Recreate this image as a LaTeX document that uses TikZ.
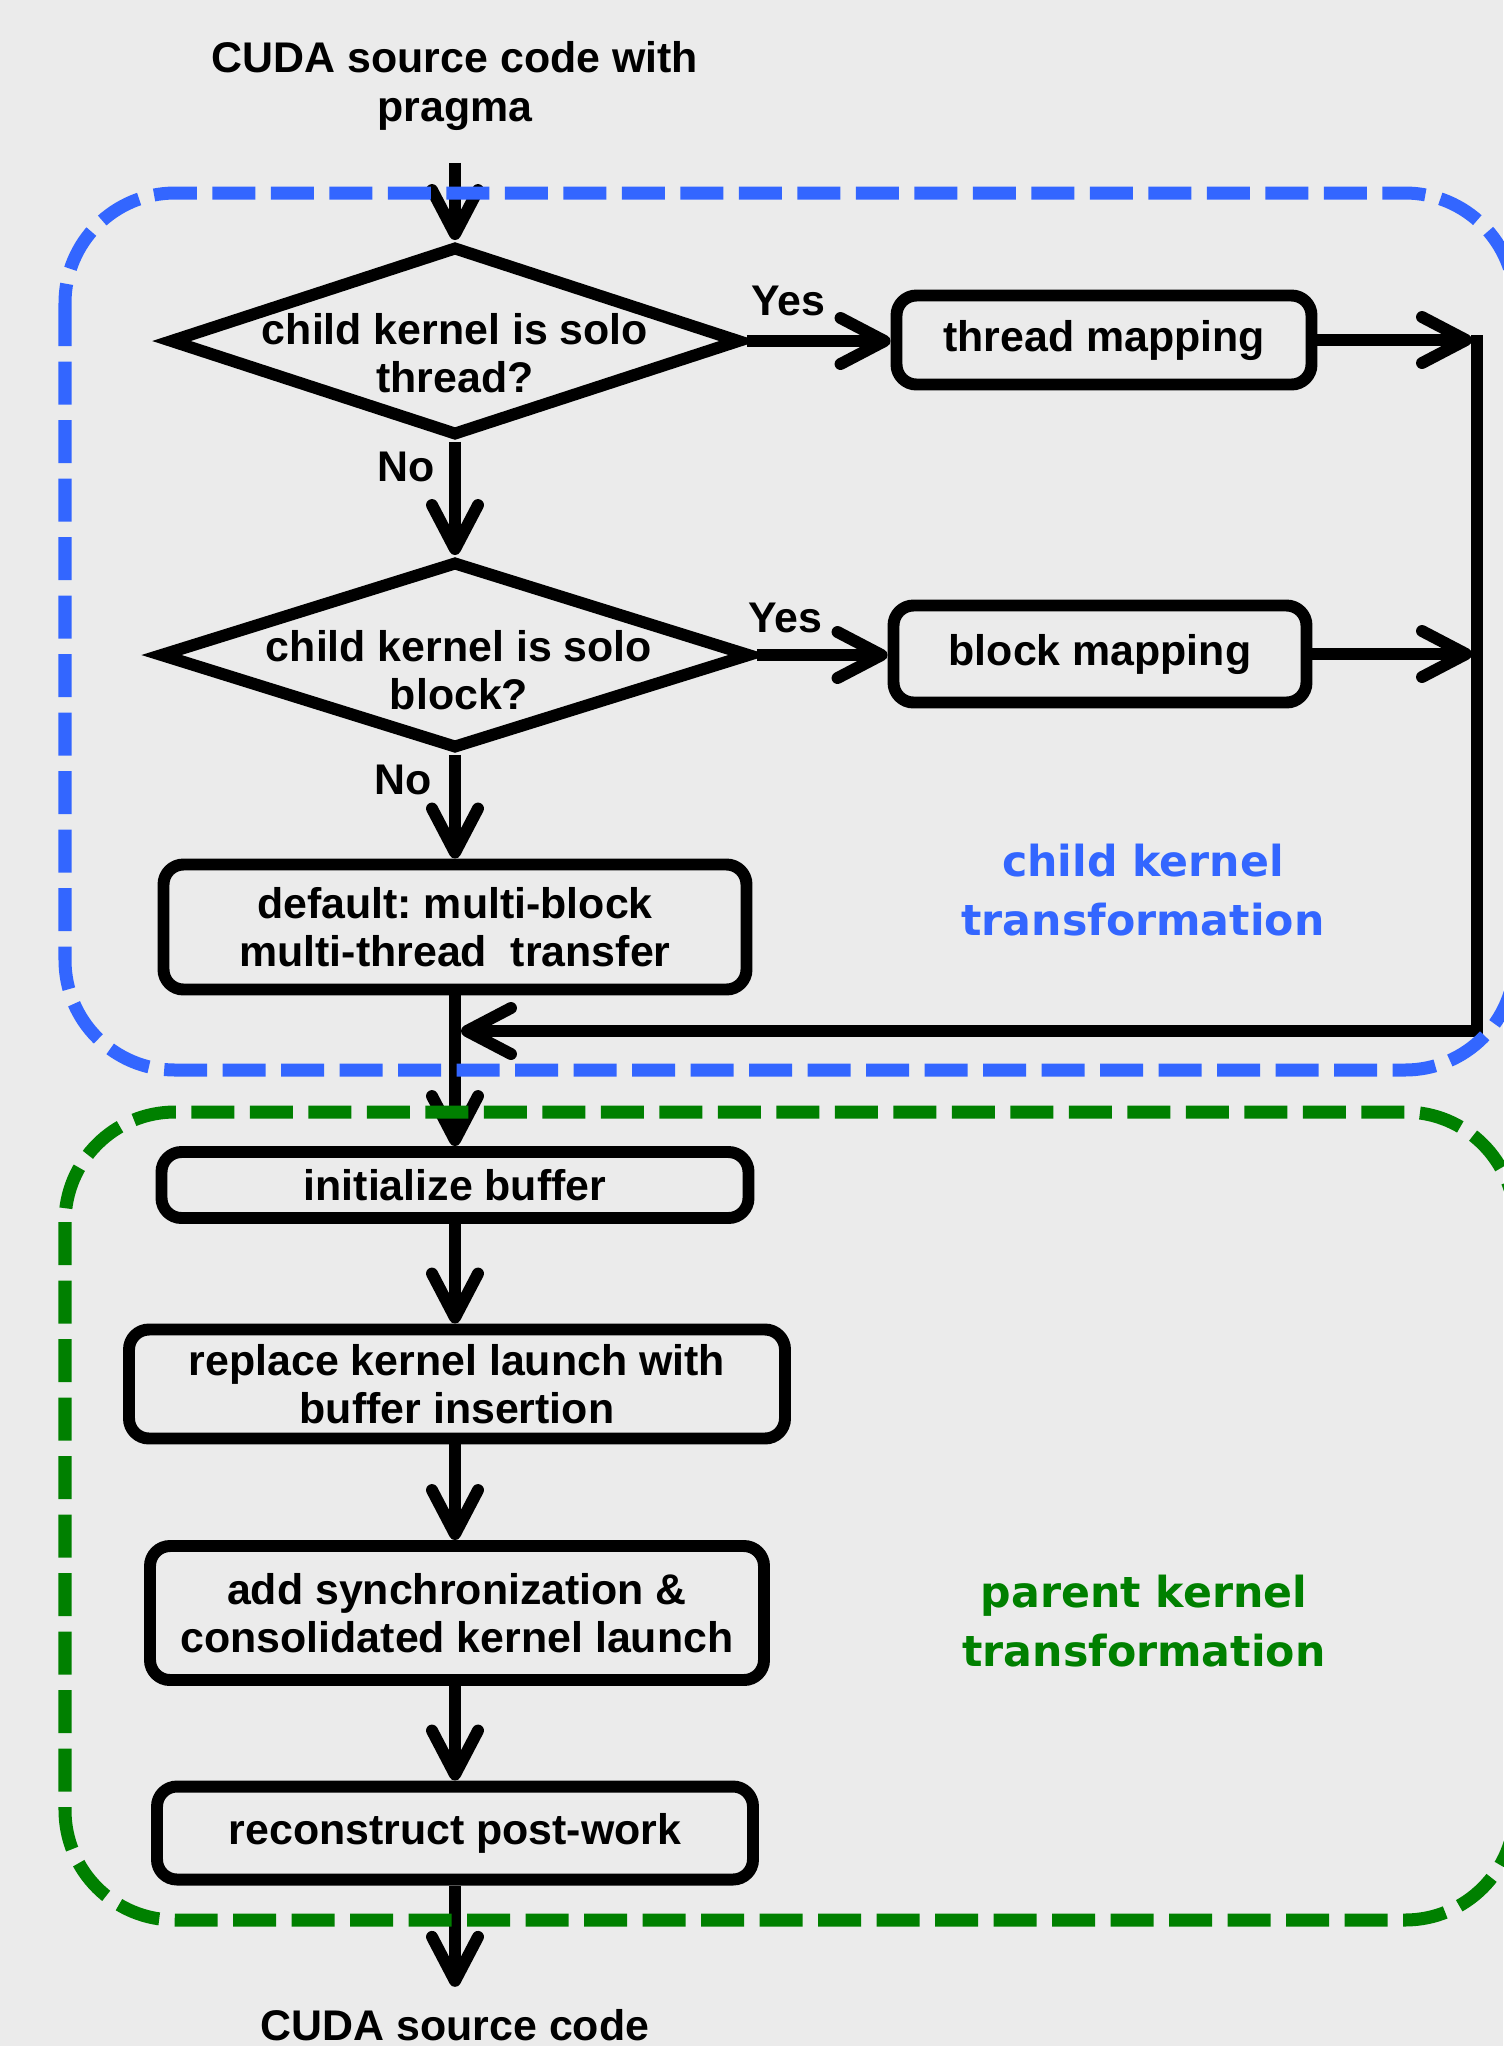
\documentclass[tikz,border=0pt]{standalone}
\usepackage{fontspec}
\setmainfont{Liberation Sans}
\newfontfamily\verdanaish{DejaVu Sans}
\usetikzlibrary{shapes.geometric,arrows.meta}
\definecolor{bgcol}{RGB}{235,235,235}
\definecolor{childblue}{RGB}{51,102,255}
\definecolor{parentgreen}{RGB}{0,128,0}
\frenchspacing

\begin{document}
\begin{tikzpicture}[x=1cm, y=-1cm,
    every node/.style={font=\fontsize{12.2}{13.8}\selectfont\bfseries, align=center},
    box/.style={draw, line width=3.4pt, rounded corners=0.2cm, inner sep=0pt},
    decision/.style={draw, diamond, line width=3.4pt, inner sep=0pt},
    flow/.style={line width=3.4pt, -{Straight Barb[length=4.4mm,width=4.6mm,round]}},
    frame/.style={line width=0.13cm, dash pattern=on 0.43cm off 0.155cm, rounded corners=1.1cm},
    tag/.style={font=\fontsize{12.15}{16.7}\selectfont\verdanaish\bfseries}]
\fill[bgcol] (0,0) rectangle (15.03,20.46);
\useasboundingbox (0,0) rectangle (15.03,20.46);

\node (src) at (4.55,0.86) {CUDA source code with\\pragma};
\node[decision, minimum width=5.72cm, minimum height=1.90cm] (solothread) at (4.55,3.41) {};
\node (solothreadtxt) at (4.55,3.53) {child kernel is solo\\thread?};
\node[decision, minimum width=5.92cm, minimum height=1.88cm] (soloblock) at (4.55,6.55) {};
\node (soloblocktxt) at (4.59,6.70) {child kernel is solo\\block?};
\node[box, minimum width=4.15cm, minimum height=0.89cm] (threadmap) at (11.04,3.40) {thread mapping};
\node[box, minimum width=4.13cm, minimum height=0.97cm] (blockmap) at (11.00,6.54) {block mapping};
\node[box, minimum width=5.83cm, minimum height=1.25cm] (default) at (4.55,9.27) {default: multi-block\\multi-thread\ \ transfer};
\node[box, minimum width=5.87cm, minimum height=0.66cm] (init) at (4.55,11.85) {initialize buffer};
\node[box, minimum width=6.56cm, minimum height=1.09cm] (replace) at (4.57,13.84) {replace kernel launch with\\buffer insertion};
\node[box, minimum width=6.14cm, minimum height=1.34cm] (addsync) at (4.57,16.13) {add synchronization \&\\consolidated kernel launch};
\node[box, minimum width=5.96cm, minimum height=0.93cm] (recon) at (4.55,18.33) {reconstruct post-work};
\node (dst) at (4.55,20.25) {CUDA source code};

\node (yes1) at (7.88,3.01) {Yes};
\node (yes2) at (7.85,6.18) {Yes};
\node (no1) at (4.06,4.67) {No};
\node (no2) at (4.03,7.80) {No};
\node[tag, childblue] (childtag) at (11.43,8.90) {child kernel\\transformation};
\node[tag, parentgreen] (parenttag) at (11.44,16.21) {parent kernel\\transformation};

\coordinate (jt) at (14.72,3.40);
\coordinate (jb) at (14.72,6.54);
\coordinate (bustop) at (14.77,3.35);
\coordinate (buscorner) at (14.77,10.31);
\coordinate (merge) at (4.61,10.31);

\draw[flow, shorten <=0.2cm] (src) -- (solothread.north);
\draw[flow] (solothread.east) -- (threadmap.west |- solothread.east);
\draw[flow] (solothread.south) -- (soloblock.north);
\draw[flow] (soloblock.east) -- (blockmap.west |- soloblock.east);
\draw[flow] (soloblock.south) -- (default.north);
\draw[flow] (threadmap.east) -- (jt);
\draw[flow] (blockmap.east) -- (jb);
\draw[flow, line join=miter] (bustop) -- (buscorner) -- (merge);
\draw[flow] (default.south) -- (init.north);
\draw[flow] (init.south) -- (init.south |- replace.north);
\draw[flow] (init.south |- replace.south) -- (init.south |- addsync.north);
\draw[flow] (init.south |- addsync.south) -- (init.south |- recon.north);
\draw[flow, shorten >=0.1cm] (init.south |- recon.south) -- (dst);

\draw[frame, childblue] (0.65,1.93) rectangle (15.15,10.70);
\draw[frame, parentgreen] (0.65,11.12) rectangle (15.15,19.20);
\end{tikzpicture}
\end{document}
